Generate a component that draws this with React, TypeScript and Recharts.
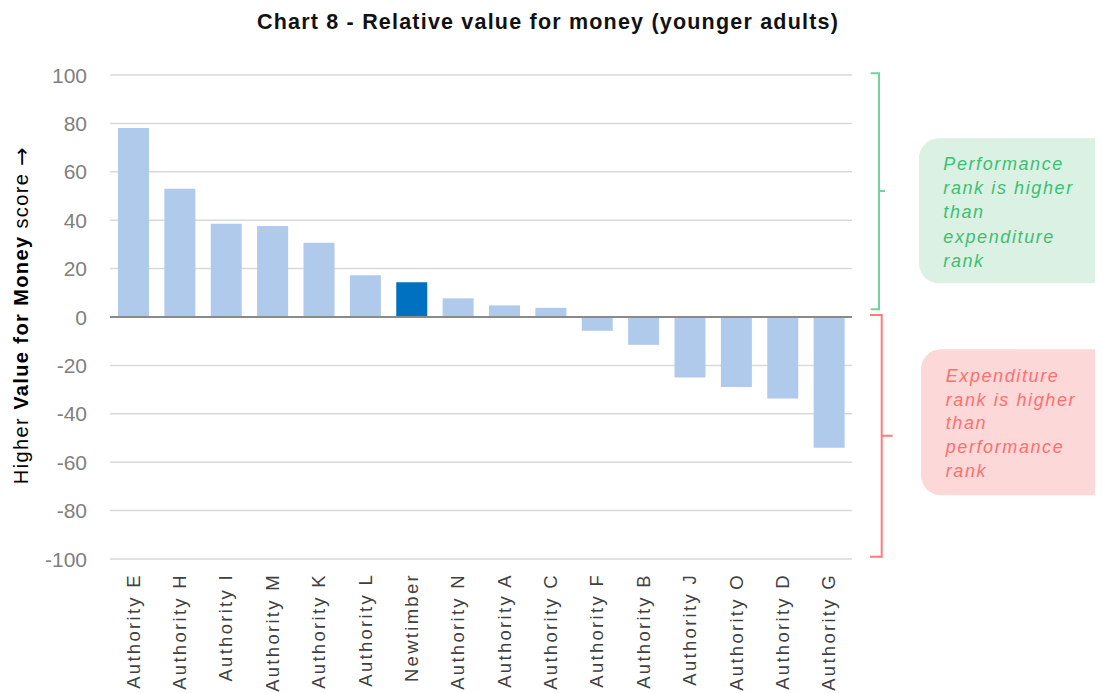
import React from "react";
import { BarChart, Bar, XAxis, YAxis, CartesianGrid, ReferenceLine, Cell } from "recharts";

const categories = [
  "Authority E", "Authority H", "Authority I", "Authority M", "Authority K", "Authority L",
  "Newtimber", "Authority N", "Authority A", "Authority C", "Authority F", "Authority B",
  "Authority J", "Authority O", "Authority D", "Authority G",
];
const scores = [78.1, 53, 38.5, 37.6, 30.7, 17.3, 14.4, 7.7, 4.8, 3.8, -5.7, -11.5, -25, -28.9, -33.7, -54];
const highlight = "Newtimber";
const yTicks = [-100, -80, -60, -40, -20, 0, 20, 40, 60, 80, 100];
const title = "Chart 8 - Relative value for money (younger adults)";
const positiveNote = ["Performance", "rank is higher", "than", "expenditure", "rank"];
const negativeNote = ["Expenditure", "rank is higher", "than", "performance", "rank"];

const data = categories.map((name, i) => ({ name, value: scores[i] }));

const FONT = "'Liberation Sans', Arial, sans-serif";
const W = 1095;
const H = 685;

const YTick = (props: any) => {
  const { y, payload } = props;
  return (
    <text x={79} y={y} textAnchor="end" dominantBaseline="central" fill="#808080" fontSize={21} fontFamily={FONT}>
      {payload.value}
    </text>
  );
};

const XTick = (props: any) => {
  const { x, payload } = props;
  return (
    <text
      transform={`translate(${x},${565}) rotate(-90)`}
      textAnchor="end"
      dominantBaseline="central"
      fill="#404040"
      fontSize={18.5}
      fontFamily={FONT}
      letterSpacing={2.3}
    >
      {payload.value}
    </text>
  );
};

export default function App() {
  return (
    <div style={{ position: "relative", width: W, height: H }}>
      <BarChart
        width={W}
        height={H}
        data={data}
        margin={{ top: 67, right: 251, bottom: 0, left: 0 }}
        barSize={31}
      >
        <CartesianGrid vertical={false} stroke="#d9d9d9" strokeWidth={1.5} />
        <XAxis dataKey="name" height={134} axisLine={false} tickLine={false} interval={0} tick={<XTick />} />
        <YAxis
          width={102}
          domain={[-100, 100]}
          ticks={yTicks}
          axisLine={false}
          tickLine={false}
          tick={<YTick />}
        />
        <Bar dataKey="value" isAnimationActive={false}>
          {data.map((d) => (
            <Cell key={d.name} fill={d.name === highlight ? "#0070c0" : "#afcaeb"} />
          ))}
        </Bar>
        <ReferenceLine y={0} stroke="#8a8a8a" strokeWidth={2} />
      </BarChart>
      <svg width={W} height={H} style={{ position: "absolute", left: 0, top: 0, pointerEvents: "none" }}>
        <text x={540} y={21} textAnchor="middle" fontSize={21.5} fontWeight="bold" fill="#111" fontFamily={FONT} letterSpacing={1.2}>
          {title}
        </text>
        <text transform="translate(13,307) rotate(-90)" textAnchor="middle" dominantBaseline="central" fontSize={20} fill="#000" fontFamily={FONT} letterSpacing={1.4}>
          <tspan>Higher</tspan>
          <tspan fontWeight="bold"> Value for Money</tspan>
          <tspan> score </tspan>
          <tspan fontFamily="'DejaVu Sans', sans-serif" fontSize={22}>→</tspan>
        </text>
        {/* green brace */}
        <path d="M862.7,65.3 H871 V183 H877 M871,183 V301.3 H862.7" fill="none" stroke="#72d49c" strokeWidth={2} />
        {/* red brace */}
        <path d="M862,307 H873.7 V427.7 H884.7 M873.7,427.7 V548.7 H862" fill="none" stroke="#ff7b7b" strokeWidth={2} />
        <rect x={911} y={130.3} width={200} height={145} rx={20} fill="#dbf1e3" />
        <rect x={913} y={341.3} width={200} height={146} rx={20} fill="#fdd8d8" />
        <text fontSize={18} fontStyle="italic" fill="#3dbf73" fontFamily={FONT} letterSpacing={1.6}>
          {positiveNote.map((t, i) => (
            <tspan key={i} x={935.3} y={162 + i * 24.2}>{t}</tspan>
          ))}
        </text>
        <text fontSize={18} fontStyle="italic" fill="#ff6f6f" fontFamily={FONT} letterSpacing={1.6}>
          {negativeNote.map((t, i) => (
            <tspan key={i} x={937.7} y={373.7 + i * 23.8}>{t}</tspan>
          ))}
        </text>
      </svg>
    </div>
  );
}
